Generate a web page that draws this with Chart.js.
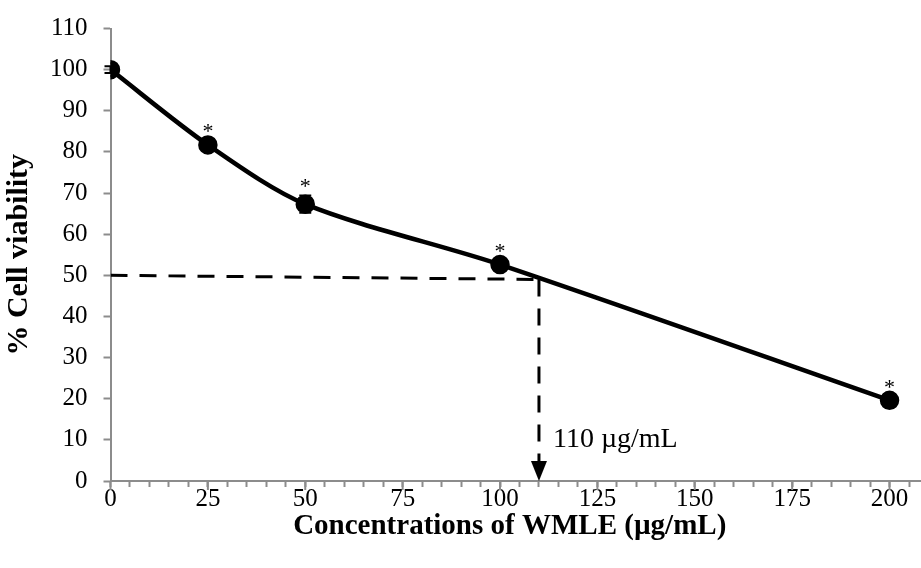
<!DOCTYPE html>
<html>
<head>
<meta charset="utf-8">
<script src="https://cdn.jsdelivr.net/npm/chart.js@4"></script>
<style>
  body { margin: 0; background: #fff; }
</style>
</head>
<body>
<canvas id="viabilityChart" width="921" height="568"></canvas>
<script>
// concentrations (ug/mL) and mean % viability
const concentrations = [0, 25, 50, 100, 200]
const viability = [100, 81.7, 67.3, 52.6, 19.6]
const errors = [0.8, 1.0, 2.1, 0.9, 0.8]
const significant = [false, true, true, true, true]

// IC50 read-off guide
const ic50 = 110
const guideX = [0, 110]
const guideY = [50, 49]

const serif = '"Liberation Serif", "Times New Roman", serif'

// draws error bars, asterisks, the arrow head and the IC50 label
const extrasPlugin = {
    id: 'extras',
    afterDatasetsDraw(chart) {
        const ctx = chart.ctx
        const xs = chart.scales.x
        const ys = chart.scales.y
        ctx.save()
        ctx.strokeStyle = '#000'
        ctx.lineWidth = 2
        for (let i = 0; i < concentrations.length; i++) {
            const px = xs.getPixelForValue(concentrations[i])
            const top = ys.getPixelForValue(viability[i] + errors[i])
            const bot = ys.getPixelForValue(viability[i] - errors[i])
            ctx.beginPath()
            ctx.moveTo(px, top); ctx.lineTo(px, bot)
            ctx.moveTo(px - 6, top); ctx.lineTo(px + 6, top)
            ctx.moveTo(px - 6, bot); ctx.lineTo(px + 6, bot)
            ctx.stroke()
            if (significant[i]) {
                ctx.fillStyle = '#000'
                ctx.font = '22px ' + serif
                ctx.textAlign = 'center'
                ctx.textBaseline = 'alphabetic'
                ctx.fillText('*', px, top - 3)
            }
        }
        // arrow head on the x axis at the IC50
        const ax = xs.getPixelForValue(ic50)
        const ay = ys.getPixelForValue(0)
        ctx.fillStyle = '#000'
        ctx.beginPath()
        ctx.moveTo(ax, ay)
        ctx.lineTo(ax - 8, ay - 20)
        ctx.lineTo(ax + 8, ay - 20)
        ctx.closePath()
        ctx.fill()
        // label
        ctx.font = '28px ' + serif
        ctx.textAlign = 'left'
        ctx.textBaseline = 'middle'
        ctx.fillText(ic50 + ' µg/mL', ax + 14, ys.getPixelForValue(10))
        // longer major ticks and axis run-out on the x axis
        ctx.strokeStyle = '#8c8c8c'
        ctx.lineWidth = 2
        for (let v = 0; v <= 200; v += 25) {
            const tx = xs.getPixelForValue(v)
            ctx.beginPath()
            ctx.moveTo(tx, ay); ctx.lineTo(tx, ay + 9)
            ctx.stroke()
        }
        ctx.beginPath()
        ctx.moveTo(chart.chartArea.right, ay)
        ctx.lineTo(chart.width, ay)
        ctx.stroke()
        ctx.restore()
    }
}

const ctx = document.getElementById('viabilityChart')
const viabilityChart = new Chart(ctx, {
    type: 'line',
    data: {
        datasets: [{
            label: 'Cell viability',
            data: concentrations.map((c, i) => ({ x: c, y: viability[i] })),
            borderColor: '#000',
            backgroundColor: '#000',
            borderWidth: 4.5,
            pointRadius: 7.5,
            pointHoverRadius: 7.5,
            tension: 0.3,
            fill: false
        }, {
            label: 'IC50 horizontal',
            data: guideX.map((c, i) => ({ x: c, y: guideY[i] })),
            borderColor: '#000',
            borderWidth: 3,
            borderDash: [17, 12],
            pointRadius: 0,
            fill: false
        }, {
            label: 'IC50 vertical',
            data: [{ x: ic50, y: guideY[1] }, { x: ic50, y: 4 }],
            borderColor: '#000',
            borderWidth: 3,
            borderDash: [17, 12],
            pointRadius: 0,
            fill: false
        }]
    },
    options: {
        responsive: false,
        animation: false,
        layout: { padding: { top: 9, right: 0, bottom: 27, left: 0 } },
        plugins: {
            legend: { display: false },
            tooltip: { enabled: false }
        },
        scales: {
            x: {
                type: 'linear',
                min: 0,
                max: 205,
                afterBuildTicks: (axis) => {
                    axis.ticks = axis.ticks.filter(t => t.value % 5 === 0)
                },
                ticks: {
                    stepSize: 5,
                    autoSkip: false,
                    maxRotation: 0,
                    color: '#000',
                    font: { family: serif, size: 25, lineHeight: 1 },
                    padding: 0,
                    callback: (v) => (v % 25 === 0 ? v : '')
                },
                grid: {
                    drawOnChartArea: false,
                    tickLength: 6,
                    tickWidth: 2,
                    tickColor: '#8c8c8c'
                },
                border: { color: '#8c8c8c', width: 2 },
                title: {
                    display: true,
                    text: 'Concentrations of WMLE (µg/mL)',
                    color: '#000',
                    font: { family: serif, size: 29, weight: 'bold', lineHeight: 1 },
                    padding: { top: 0, bottom: 0 }
                }
            },
            y: {
                min: 0,
                max: 110,
                ticks: {
                    stepSize: 10,
                    color: '#000',
                    font: { family: serif, size: 25, lineHeight: 1 },
                    padding: 16
                },
                grid: {
                    drawOnChartArea: false,
                    tickLength: 7,
                    tickWidth: 2,
                    tickColor: '#8c8c8c'
                },
                border: { color: '#8c8c8c', width: 2 },
                title: {
                    display: true,
                    text: '% Cell viability',
                    color: '#000',
                    font: { family: serif, size: 30, weight: 'bold', lineHeight: 1 },
                    padding: { top: 4, bottom: 0 }
                }
            }
        }
    },
    plugins: [extrasPlugin]
})
</script>
</body>
</html>
